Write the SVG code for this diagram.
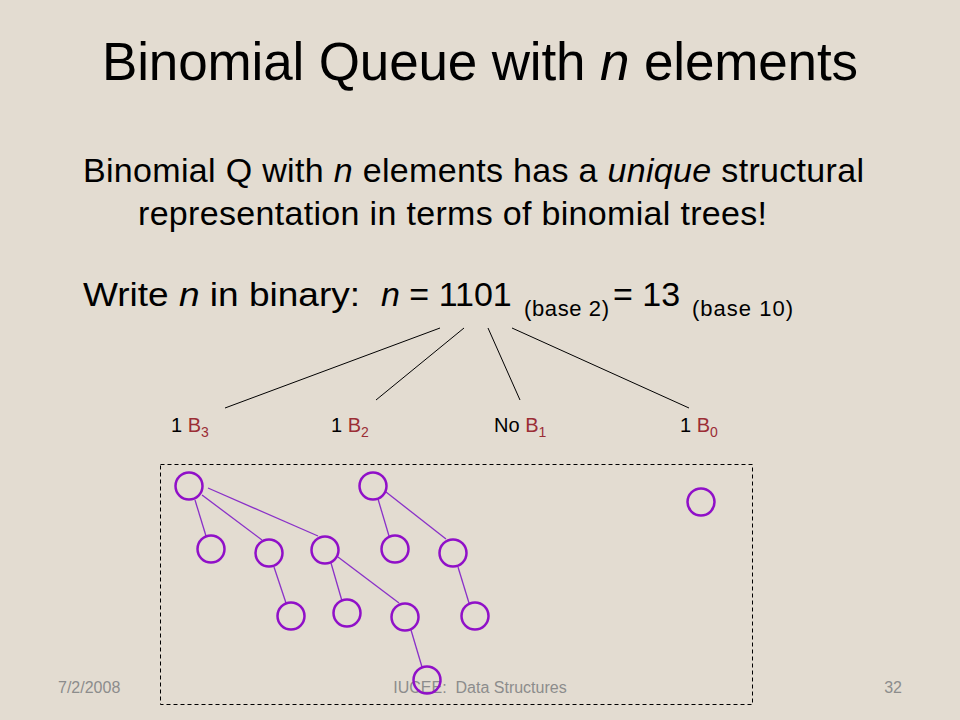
<svg xmlns="http://www.w3.org/2000/svg" width="960" height="720" viewBox="0 0 960 720">
<style>
text{font-family:"Liberation Sans",Arial,sans-serif;}
.title{font-size:53px;fill:#000;}
.body{font-size:34px;fill:#000;}
.sub{font-size:22px;fill:#000;}
.lbl{font-size:20px;fill:#000;}
.red{fill:#9b2d35;}
.foot{font-size:16px;fill:#8c8c8c;}
.node{fill:none;stroke:#9010c8;stroke-width:2.5;}
.edge{stroke:#8a30c8;stroke-width:1.3;fill:none;}
.bin{stroke:#000;stroke-width:1;fill:none;}
</style>
<rect width="960" height="720" fill="#e3dcd1"/>
<text class="title" x="102" y="80" textLength="756" lengthAdjust="spacing">Binomial Queue with <tspan font-style="italic">n</tspan> elements</text>
<text class="body" x="83" y="182" textLength="781" lengthAdjust="spacing">Binomial Q with <tspan font-style="italic">n</tspan> elements has a <tspan font-style="italic">unique</tspan> structural</text>
<text class="body" x="138" y="225" textLength="629" lengthAdjust="spacing">representation in terms of binomial trees!</text>
<text class="body" x="83" y="306" textLength="277" lengthAdjust="spacingAndGlyphs">Write <tspan font-style="italic">n</tspan> in binary:</text>
<text class="body" x="381" y="306"><tspan font-style="italic">n</tspan> = 1101</text>
<text class="sub" x="524" y="316" textLength="85" lengthAdjust="spacing">(base 2)</text>
<text class="body" x="613" y="306">= 13</text>
<text class="sub" x="692" y="316" textLength="101" lengthAdjust="spacing">(base 10)</text>
<rect x="160.5" y="464.5" width="592" height="240" fill="none" stroke="#000" stroke-width="1" stroke-dasharray="4,3"/>
<g id="connectors">
<g id="binary-lines">
<line class="bin" x1="440" y1="328" x2="225" y2="408"/>
<line class="bin" x1="464" y1="328" x2="376" y2="400"/>
<line class="bin" x1="488" y1="328" x2="520" y2="400"/>
<line class="bin" x1="512" y1="328" x2="689" y2="408"/>
</g>
<g id="tree-edges">
<line class="edge" x1="195" y1="500" x2="206" y2="536"/>
<line class="edge" x1="202" y1="495" x2="262" y2="540"/>
<line class="edge" x1="208" y1="488" x2="318" y2="536"/>
<line class="edge" x1="274" y1="567" x2="286" y2="603"/>
<line class="edge" x1="331" y1="563" x2="342" y2="601"/>
<line class="edge" x1="338" y1="557" x2="399" y2="603"/>
<line class="edge" x1="411" y1="630" x2="422" y2="667"/>
<line class="edge" x1="378" y1="499" x2="389" y2="536"/>
<line class="edge" x1="386" y1="492" x2="446" y2="539"/>
<line class="edge" x1="458" y1="567" x2="469" y2="603"/>
</g>
</g>
<g id="labels">
<text class="lbl" x="171" y="432">1 <tspan class="red">B</tspan><tspan class="red" font-size="14" dy="5">3</tspan></text>
<text class="lbl" x="331" y="432">1 <tspan class="red">B</tspan><tspan class="red" font-size="14" dy="5">2</tspan></text>
<text class="lbl" x="494" y="432">No <tspan class="red">B</tspan><tspan class="red" font-size="14" dy="5">1</tspan></text>
<text class="lbl" x="680" y="432">1 <tspan class="red">B</tspan><tspan class="red" font-size="14" dy="5">0</tspan></text>
</g>
<g id="footer">
<text class="foot" x="58" y="693">7/2/2008</text>
<text class="foot" x="480" y="693" text-anchor="middle">IUCEE:&#160; Data Structures</text>
<text class="foot" x="902" y="693" text-anchor="end">32</text>
</g>
<g id="B3-root"><circle class="node" cx="189" cy="486" r="13.5"/></g>
<g id="B3-c1"><circle class="node" cx="211" cy="549" r="13.5"/></g>
<g id="B3-c2"><circle class="node" cx="269" cy="553" r="13.5"/></g>
<g id="B3-c3"><circle class="node" cx="325" cy="550" r="13.5"/></g>
<g id="B3-c2-c1"><circle class="node" cx="291" cy="616" r="13.5"/></g>
<g id="B3-c3-c1"><circle class="node" cx="347" cy="613" r="13.5"/></g>
<g id="B3-c3-c2"><circle class="node" cx="405" cy="617" r="13.5"/></g>
<g id="B3-c3-c2-c1"><circle class="node" cx="427" cy="680" r="13.5"/></g>
<g id="B2-root"><circle class="node" cx="373" cy="486" r="13.5"/></g>
<g id="B2-c1"><circle class="node" cx="395" cy="549" r="13.5"/></g>
<g id="B2-c2"><circle class="node" cx="453" cy="553" r="13.5"/></g>
<g id="B2-c2-c1"><circle class="node" cx="475" cy="616" r="13.5"/></g>
<g id="B0-root"><circle class="node" cx="701" cy="502" r="13.5"/></g>
</svg>
